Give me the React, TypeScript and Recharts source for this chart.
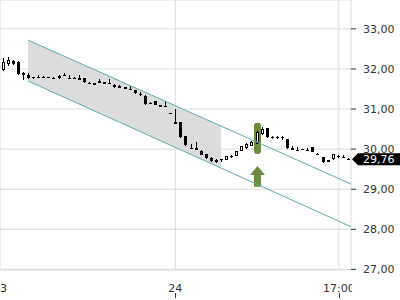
import React from 'react';
import {
  ComposedChart,
  Bar,
  Area,
  XAxis,
  YAxis,
  CartesianGrid,
  ReferenceLine,
  ReferenceDot,
} from 'recharts';

// ---- data ----
const opens = [
  31.97, 32.12, 32.21, 32.17, 31.9, 31.85, 31.8, 31.79, 31.8, 31.79,
  31.78, 31.77, 31.84, 31.78, 31.77, 31.78, 31.77, 31.66, 31.6, 31.65,
  31.67, 31.64, 31.61, 31.58, 31.55, 31.5, 31.47, 31.38, 31.33, 31.15,
  31.2, 31.06, 31.08, 30.9, 30.68, 30.67, 30.33, 30.04, 30.02, 29.96,
  29.87, 29.79, 29.68, 29.75, 29.73, 29.82, 29.83, 29.96, 30.02, 30.08,
  30.13, 30.38, 30.52, 30.31, 30.27, 30.31, 30.25, 30.02, 29.99, 30.0,
  29.97, 30.05, 29.89, 29.8, 29.68, 29.75, 29.82, 29.8, 29.76,
];
const highs = [
  32.28, 32.3, 32.23, 32.19, 31.92, 31.9, 31.81, 31.84, 31.82, 31.8,
  31.8, 31.84, 31.89, 31.84, 31.79, 31.86, 31.78, 31.67, 31.65, 31.75,
  31.68, 31.75, 31.62, 31.59, 31.56, 31.58, 31.48, 31.42, 31.36, 31.18,
  31.21, 31.1, 31.2, 30.91, 31.0, 30.68, 30.34, 30.13, 30.17, 29.97,
  29.88, 29.8, 29.75, 29.76, 29.84, 29.85, 29.96, 30.09, 30.16, 30.2,
  30.44, 30.56, 30.53, 30.32, 30.33, 30.32, 30.26, 30.08, 30.05, 30.01,
  30.02, 30.06, 29.9, 29.81, 29.73, 29.88, 29.85, 29.85, 29.77,
];
const lows = [
  31.94, 32.08, 32.11, 31.84, 31.73, 31.74, 31.74, 31.78, 31.78, 31.78,
  31.76, 31.76, 31.83, 31.77, 31.75, 31.72, 31.66, 31.62, 31.6, 31.64,
  31.62, 31.63, 31.53, 31.52, 31.49, 31.49, 31.37, 31.33, 31.11, 31.12,
  31.1, 31.05, 31.07, 30.89, 30.62, 30.28, 30.08, 30.03, 29.98, 29.85,
  29.76, 29.69, 29.66, 29.67, 29.72, 29.79, 29.82, 29.95, 30.0, 30.07,
  30.12, 30.36, 30.28, 30.26, 30.26, 30.22, 30.0, 29.97, 29.98, 29.99,
  29.96, 29.92, 29.85, 29.66, 29.67, 29.74, 29.79, 29.79, 29.75,
];
const closes = [
  32.18, 32.22, 32.12, 31.87, 31.86, 31.77, 31.77, 31.79, 31.8, 31.79,
  31.78, 31.82, 31.84, 31.78, 31.77, 31.73, 31.67, 31.63, 31.64, 31.69,
  31.63, 31.64, 31.54, 31.53, 31.5, 31.5, 31.39, 31.38, 31.13, 31.15,
  31.11, 31.1, 31.08, 30.9, 30.63, 30.3, 30.1, 30.04, 29.99, 29.86,
  29.77, 29.7, 29.72, 29.75, 29.82, 29.82, 29.95, 30.08, 30.14, 30.18,
  30.42, 30.5, 30.3, 30.27, 30.31, 30.27, 30.02, 29.98, 29.99, 30.0,
  29.97, 29.93, 29.86, 29.67, 29.72, 29.87, 29.82, 29.8, 29.76,
];

// shaded channel part (start/end index with lower/upper price)
const bandIndex = [5, 43];
const bandLow = [31.7, 29.53];
const bandHigh = [32.72, 30.575];

// channel lines
const upperLine = [
  { x: 5, y: 32.72 },
  { x: 68.6, y: 29.13 },
];
const lowerLine = [
  { x: 5, y: 31.7 },
  { x: 68.6, y: 28.065 },
];

// signal highlight
const highlightIndex = 50;
const highlightRange = [29.88, 30.66];
const arrowRange = [29.06, 29.58];

const lastPrice = 29.76;

const yTicks = [27, 28, 29, 30, 31, 32, 33];
const xTickPositions = [-0.53, 34, 66.2];
const xTickLabels = ['23', '24', '17:00'];

const xDomain: [number, number] = [-0.53, 68.6];
const yDomain: [number, number] = [26.985, 33.72];

const GREEN = '#6e8b3d';
const TEAL = '#64a9ae';
const FONT = 'DejaVu Sans';

const data = opens.map((o, i) => {
  const b = bandIndex.indexOf(i);
  return {
    i,
    open: o,
    high: highs[i],
    low: lows[i],
    close: closes[i],
    band: b >= 0 ? [bandLow[b], bandHigh[b]] : null,
    hl: i === highlightIndex ? highlightRange : null,
    arrow: i === highlightIndex ? arrowRange : null,
  };
});

const fmt = (v: number) => v.toFixed(2).replace('.', ',');

function Candle(props: any) {
  const { x, y, width, height } = props;
  const p = props.payload ?? props;
  if (p == null || p.high == null) return null;
  const top = Math.min(y, y + height);
  const h = Math.abs(height);
  const k = h / (p.high - p.low);
  const py = (v: number) => top + (p.high - v) * k;
  const X = Math.round(x + width / 2);
  const o = p.open;
  const c = p.close;
  const yHigh = Math.round(py(p.high));
  const yLow = Math.round(py(p.low));
  const y0 = Math.round(py(Math.max(o, c)));
  let y1 = Math.round(py(Math.min(o, c)));
  if (y1 <= y0) y1 = y0 + 1;
  const els: any[] = [];
  if (p.hl) {
    const t = py(p.hl[1]);
    const b = py(p.hl[0]);
    els.push(
      <rect key="hl" x={X + 0.5 - 3.5} y={t} width={7} height={b - t} rx={3} ry={3} fill={GREEN} />
    );
  }
  if (p.arrow) {
    const t = py(p.arrow[1]);
    const b = py(p.arrow[0]);
    const cx = X + 0.5;
    const hh = 9;
    els.push(
      <polygon
        key="arrow"
        points={`${cx},${t} ${cx + 7.5},${t + hh} ${cx + 3.5},${t + hh} ${cx + 3.5},${b} ${cx - 3.5},${b} ${cx - 3.5},${t + hh} ${cx - 7.5},${t + hh}`}
        fill={GREEN}
      />
    );
  }
  els.push(
    <line key="w" x1={X + 0.5} x2={X + 0.5} y1={yHigh} y2={Math.max(yLow, yHigh + 1)} stroke="#000" strokeWidth={1} />
  );
  if (c > o && y1 - y0 >= 2) {
    els.push(
      <rect key="b" x={X - 0.5} y={y0 + 0.5} width={2} height={y1 - y0 - 1} fill="#fff" stroke="#000" strokeWidth={1} />
    );
  } else {
    els.push(<rect key="b" x={X - 1} y={y0} width={3} height={y1 - y0} fill="#000" />);
  }
  return <g>{els}</g>;
}

function XTick(props: any) {
  const { x, payload } = props;
  const idx = xTickPositions.indexOf(payload.value);
  const label = idx >= 0 ? xTickLabels[idx] : '';
  return (
    <g>
      <svg x={0} y={270} width={352} height={30} overflow="hidden">
        <text x={x} y={21.5} textAnchor="middle" fontSize={11} fontFamily={FONT} fill="#333">
          {label}
        </text>
      </svg>
      {x > 1 ? (
        <line x1={Math.round(x) + 0.5} x2={Math.round(x) + 0.5} y1={293} y2={298} stroke="#333" />
      ) : null}
    </g>
  );
}

function PriceLabel(props: any) {
  const { cx, cy } = props;
  const t = cx + 1;
  const top = cy - 5.5;
  const bot = cy + 6.5;
  const mid = (top + bot) / 2;
  return (
    <g>
      <polygon
        points={`${t},${mid} ${t + 6},${top} ${400},${top} ${400},${bot} ${t + 6},${bot}`}
        fill="#000"
      />
      <text x={363} y={mid} dy="0.36em" fontSize={11} fontFamily={FONT} fill="#fff">
        {fmt(lastPrice)}
      </text>
    </g>
  );
}

export default function App() {
  return (
    <div style={{ position: 'absolute', left: 0, top: 0, width: 400, height: 300, background: '#fff' }}>
      <style>{'body{margin:0}'}</style>
      <ComposedChart width={400} height={300} data={data} margin={{ top: 0, right: 0, bottom: 0, left: 0 }}>
        <CartesianGrid stroke="#dddddd" />
        <XAxis
          type="number"
          dataKey="i"
          domain={xDomain}
          ticks={xTickPositions}
          allowDataOverflow
          interval={0}
          axisLine={false}
          tickLine={false}
          height={30}
          tick={<XTick />}
        />
        <YAxis
          orientation="right"
          type="number"
          domain={yDomain}
          ticks={yTicks}
          allowDataOverflow
          interval={0}
          width={49}
          axisLine={false}
          tickSize={5}
          tickMargin={7}
          tickLine={{ stroke: '#333' }}
          tickFormatter={fmt}
          tick={{ fontSize: 11, fontFamily: FONT, fill: '#333' }}
        />
        <Area
          dataKey="band"
          connectNulls
          type="linear"
          stroke="none"
          fill="#dcdcdc"
          fillOpacity={1}
          dot={false}
          activeDot={false}
          isAnimationActive={false}
        />
        <ReferenceLine segment={upperLine} stroke={TEAL} strokeWidth={1} ifOverflow="visible" />
        <ReferenceLine segment={lowerLine} stroke={TEAL} strokeWidth={1} ifOverflow="visible" />
        <Bar
          dataKey={(d: any) => [d.low, d.high]}
          barSize={3}
          shape={<Candle />}
          isAnimationActive={false}
        />
        <ReferenceDot x={xDomain[1]} y={lastPrice} r={0} shape={<PriceLabel />} ifOverflow="visible" />
      </ComposedChart>
    </div>
  );
}
